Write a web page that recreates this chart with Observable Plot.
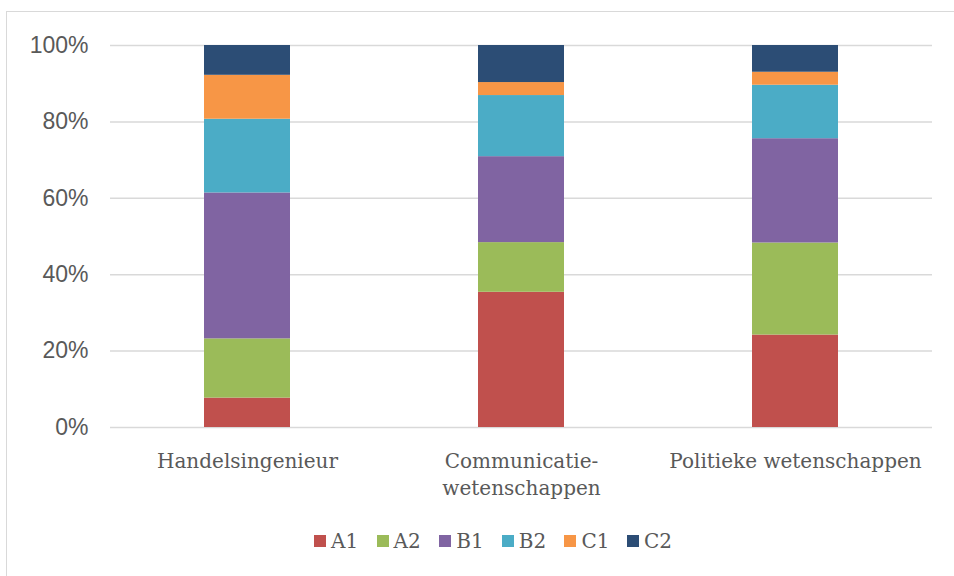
<!DOCTYPE html>
<html><head><meta charset="utf-8">
<script src="https://cdn.jsdelivr.net/npm/d3@7"></script>
<script src="https://cdn.jsdelivr.net/npm/@observablehq/plot@0.6"></script>
<style>
body{margin:0;background:#fff;}
#root{position:relative;width:954px;height:576px;overflow:hidden;background:#fff;}
#frame{position:absolute;left:6px;top:11px;width:1000px;height:620px;border:1.5px solid #d9d9d9;box-sizing:border-box}
#chart{position:absolute;left:0;top:0}
#legend{position:absolute;top:529px;left:314px;display:flex;font-family:"DejaVu Serif";font-size:20px;color:#595959}
.item{display:flex;align-items:center;width:62.6px;white-space:nowrap}
.sw{width:12px;height:12px;margin-right:5px;flex:none}
</style></head>
<body>
<div id="root"><div id="frame"></div><div id="chart"></div><div id="legend"></div></div>
<script>
const categories = ["Handelsingenieur", "Communicatie-\nwetenschappen", "Politieke wetenschappen"];
const levels = ["A1", "A2", "B1", "B2", "C1", "C2"];
const colors = ["#C0504D", "#9BBB59", "#8064A2", "#4BACC6", "#F79646", "#2C4D75"];
const A1 = [7.7, 35.4, 24.2];
const A2 = [15.5, 13.0, 24.1];
const B1 = [38.2, 22.5, 27.3];
const B2 = [19.3, 16.0, 14.0];
const C1 = [11.5, 3.4, 3.4];
const C2 = [7.8, 9.7, 7.0];
const yTicks = [0, 20, 40, 60, 80, 100];

const series = {A1, A2, B1, B2, C1, C2};
const data = [];
levels.forEach(l => categories.forEach((c, i) => data.push({category: c, level: l, value: series[l][i]})));

const chart = Plot.plot({
  width: 954, height: 520,
  marginLeft: 110, marginRight: 22, marginTop: 45, marginBottom: 93,
  style: {background: "transparent", color: "#595959", overflow: "visible"},
  x: {domain: categories, paddingInner: 0.686, paddingOuter: 0.343, label: null},
  y: {domain: [0, 100], label: null},
  color: {domain: levels, range: colors},
  marks: [
    Plot.ruleY(yTicks, {stroke: "#d9d9d9", strokeWidth: 1.5}),
    Plot.barY(data, {x: "category", y: "value", fill: "level", order: levels}),
    Plot.axisY({ticks: yTicks, tickFormat: d => d + "%", tickSize: 0, tickPadding: 22, fontSize: 23, fontFamily: "Liberation Sans, Arial, sans-serif", label: null}),
    Plot.axisX({tickSize: 0, tickPadding: 21, fontSize: 20, fontFamily: "DejaVu Serif", lineHeight: 1.35, label: null})
  ]
});
document.getElementById("chart").appendChild(chart);

const legend = document.getElementById("legend");
levels.forEach((l, i) => {
  const it = document.createElement("div");
  it.className = "item";
  it.innerHTML = `<span class="sw" style="background:${colors[i]}"></span><span>${l}</span>`;
  legend.appendChild(it);
});
</script>
</body></html>
